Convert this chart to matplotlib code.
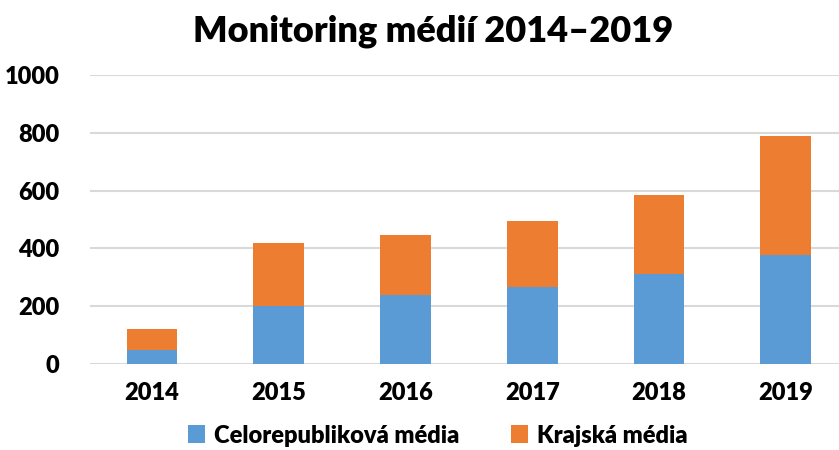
import matplotlib
matplotlib.use("Agg")
import matplotlib.pyplot as plt
import numpy as np

years = ["2014", "2015", "2016", "2017", "2018", "2019"]
celorepublikova = [50, 200, 240, 265, 310, 378]
krajska = [70, 218, 205, 230, 275, 412]
series_names = ["Celorepubliková média", "Krajská média"]
title = "Monitoring médií 2014–2019"
yticks = [0, 200, 400, 600, 800, 1000]

BLUE = "#5B9BD5"
ORANGE = "#ED7D31"

plt.rcParams["font.family"] = ["Lato", "DejaVu Sans"]
WEIGHT = "heavy"
plt.rcParams["font.weight"] = WEIGHT

fig = plt.figure(figsize=(8.39, 4.5), dpi=100)
ax = fig.add_axes([0.107, 0.191, 0.893, 0.642])

x = np.arange(len(years))
w = 0.40
ax.bar(x, celorepublikova, w, color=BLUE, label=series_names[0], zorder=3)
ax.bar(x, krajska, w, bottom=celorepublikova, color=ORANGE, label=series_names[1], zorder=3)

ax.set_xlim(-0.49, 5.42)
ax.set_ylim(0, 1000)
ax.set_yticks(yticks)
ax.set_yticklabels([str(v) for v in yticks], fontsize=17, fontweight=WEIGHT)
ax.set_xticks(x)
ax.set_xticklabels(years, fontsize=17, fontweight=WEIGHT)
ax.tick_params(axis="both", length=0)
ax.tick_params(axis="y", pad=22)
ax.tick_params(axis="x", pad=13)

ax.grid(axis="y", color="#d9d9d9", linewidth=1.5, zorder=0)
ax.set_axisbelow(True)
for s in ax.spines.values():
    s.set_visible(False)

fig.text(0.516, 0.93, title, ha="center", va="center", fontsize=26, fontweight=WEIGHT)

fig.legend(loc="center", bbox_to_anchor=(0.522, 0.032), ncol=2, frameon=False,
           handlelength=0.7, handleheight=0.8, columnspacing=2.2,
           handletextpad=0.4, borderpad=0.1, prop={"weight": WEIGHT, "size": 17})

fig.savefig("out.png", dpi=100)
